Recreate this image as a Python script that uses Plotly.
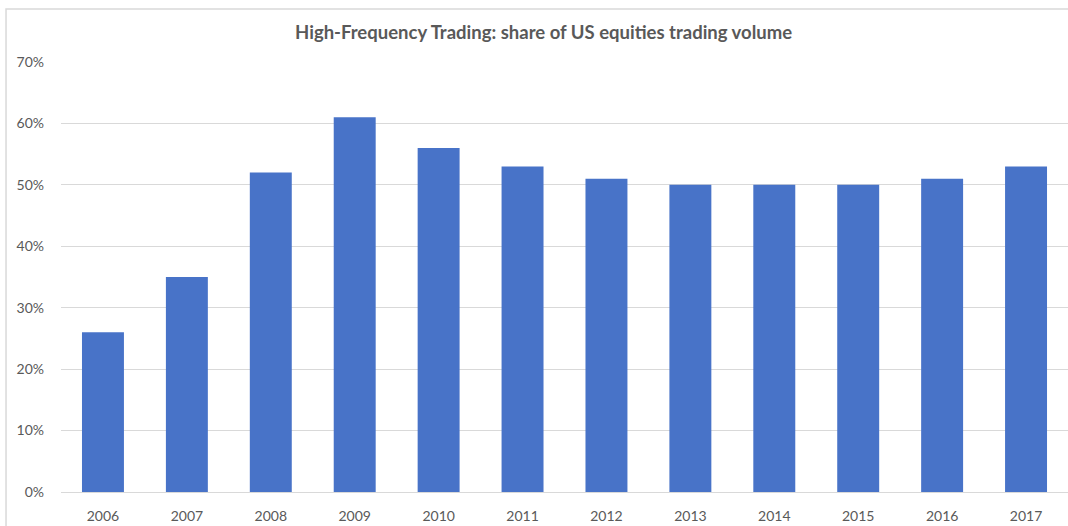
import plotly.graph_objects as go

years = ["2006", "2007", "2008", "2009", "2010", "2011", "2012", "2013", "2014", "2015", "2016", "2017"]
share = [0.26, 0.35, 0.52, 0.61, 0.56, 0.53, 0.51, 0.50, 0.50, 0.50, 0.51, 0.53]
y_ticks = [0, 0.1, 0.2, 0.3, 0.4, 0.5, 0.6, 0.7]
y_tick_labels = ["0%", "10%", "20%", "30%", "40%", "50%", "60%", "70%"]
title_text = "High-Frequency Trading: share of US equities trading volume"

fig = go.Figure(go.Bar(
    x=years, y=share,
    marker=dict(color="#4873C8", line=dict(width=0)),
    hoverinfo="x+y",
))

fig.update_layout(
    width=1068, height=526,
    margin=dict(l=61, r=0, t=62, b=34),
    paper_bgcolor="white", plot_bgcolor="white",
    bargap=0.5,
    showlegend=False,
    font=dict(family="Lato, Open Sans, sans-serif", color="#595959", size=14),
    title=dict(text="<b>" + title_text + "</b>", x=0.509, xanchor="center",
               y=1 - 33 / 526, yanchor="middle", yref="container",
               font=dict(size=18.5, color="#595959", family="Lato, Open Sans, sans-serif")),
    xaxis=dict(type="category", showgrid=False, showline=False, zeroline=False,
               ticks="", ticklabelstandoff=14, tickfont=dict(size=14, color="#595959")),
    yaxis=dict(range=[0, 0.7], tickvals=y_ticks, ticktext=y_tick_labels,
               showgrid=True, gridcolor="#D9D9D9", gridwidth=1,
               zeroline=True, zerolinecolor="#D9D9D9", zerolinewidth=1,
               showline=False, ticks="", ticklabelstandoff=16,
               tickfont=dict(size=14, color="#595959")),
    shapes=[dict(type="rect", xref="paper", yref="paper",
                 x0=-0.0546, x1=1.02, y0=-0.2, y1=1.123,
                 line=dict(color="#D9D9D9", width=1.5), layer="below")],
)

fig.write_html("out.html")
